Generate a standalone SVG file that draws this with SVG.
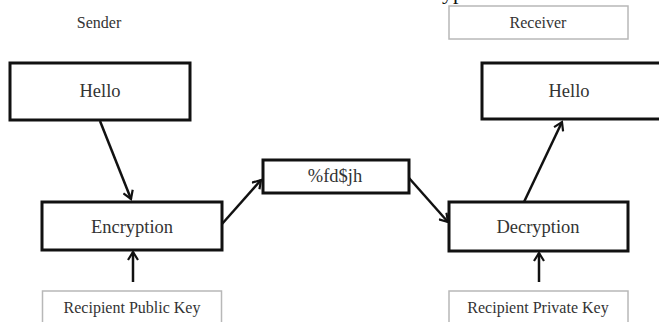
<svg xmlns="http://www.w3.org/2000/svg" width="659" height="322" viewBox="0 0 659 322">
  <style>
    .main { fill: #ffffff; stroke: #111111; stroke-width: 3; }
    .light { fill: #ffffff; stroke: #b8b8b8; stroke-width: 1.5; }
    .lbl { font-family: "Liberation Serif", "Times New Roman", serif; fill: #333333; text-anchor: middle; }
    .big { font-size: 18.5px; }
    .small { font-size: 16px; }
    .conn { stroke: #111111; stroke-width: 2.5; fill: none; marker-end: url(#arrow); }
  </style>
  <defs>
    <marker id="arrow" viewBox="0 0 12 12" refX="10" refY="6" markerWidth="12" markerHeight="12" markerUnits="userSpaceOnUse" orient="auto">
      <path d="M2,1 L10,6 L2,11" fill="none" stroke="#111111" stroke-width="2.2"/>
    </marker>
  </defs>
  <rect width="659" height="322" fill="#ffffff"/>

  <!-- clipped title descenders at the top edge -->
  <text x="442" y="-1" font-family="Liberation Serif, serif" font-size="22" fill="#111111">yp</text>

  <g id="sender">
    <text class="lbl small" x="99" y="28">Sender</text>
  </g>
  <g id="receiver">
    <rect class="light" x="449" y="6" width="179" height="33"/>
    <text class="lbl small" x="538" y="28">Receiver</text>
  </g>
  <g id="hello-plain">
    <rect class="main" x="10" y="63" width="180" height="57"/>
    <text class="lbl big" x="100" y="97">Hello</text>
  </g>
  <g id="encryption">
    <rect class="main" x="42" y="202" width="180" height="48"/>
    <text class="lbl big" x="132" y="233">Encryption</text>
  </g>
  <g id="public-key">
    <rect class="light" x="42.5" y="291" width="179" height="40"/>
    <text class="lbl small" x="132" y="313">Recipient Public Key</text>
  </g>
  <g id="ciphertext">
    <rect class="main" x="263" y="160" width="146" height="33"/>
    <text class="lbl big" x="335" y="182">%fd$jh</text>
  </g>
  <g id="decryption">
    <rect class="main" x="449" y="202" width="179" height="49"/>
    <text class="lbl big" x="538" y="233">Decryption</text>
  </g>
  <g id="private-key">
    <rect class="light" x="449" y="291" width="179" height="40"/>
    <text class="lbl small" x="538" y="313">Recipient Private Key</text>
  </g>
  <g id="hello-received">
    <rect class="main" x="482" y="63" width="185" height="56"/>
    <text class="lbl big" x="569" y="97">Hello</text>
  </g>

  <g id="connectors">
    <line class="conn" x1="100" y1="121" x2="131" y2="199"/>
    <line class="conn" x1="133" y1="282" x2="133" y2="252"/>
    <line class="conn" x1="222" y1="224" x2="261" y2="180"/>
    <line class="conn" x1="409" y1="178" x2="448" y2="222"/>
    <line class="conn" x1="524" y1="202" x2="562" y2="122"/>
    <line class="conn" x1="539" y1="282" x2="539" y2="253"/>
  </g>
</svg>
